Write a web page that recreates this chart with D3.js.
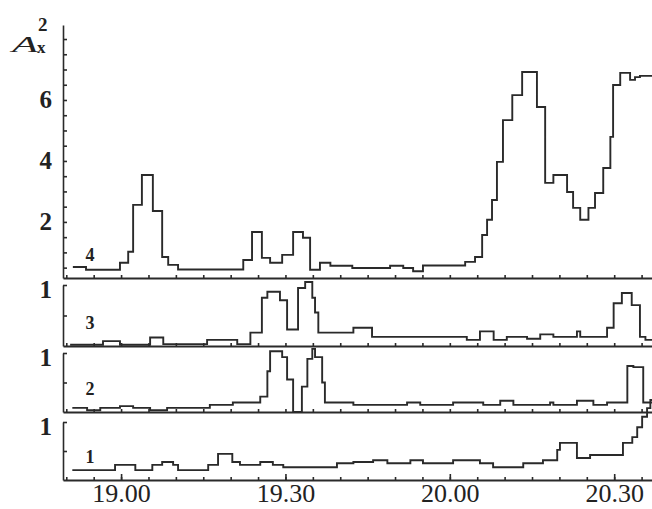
<!DOCTYPE html>
<html>
<head>
<meta charset="utf-8">
<script src="https://cdn.jsdelivr.net/npm/d3@7"></script>
<style>
body { margin: 0; background: #fff; }
svg text { font-family: "Liberation Serif", "DejaVu Serif", serif; fill: #222; }
</style>
</head>
<body>
<svg width="652" height="509"></svg>
<script>
// times are minutes after 19.00, each value holds until the next time
const tEnd = 96.9;
const timeTicks = [0, 30, 60, 90];
const topTickLabels = [2, 4, 6];

const t4 = [-8.8, -6.4, -0.2, 1.3, 2.2, 3.8, 5.8, 7.5, 8.6, 10.4, 22.3, 23.9, 25.7, 27.2, 29.4, 31.4, 33.2, 34.5, 36.3, 38.2, 42.2, 49.1, 51.5, 53.3, 55.1, 62.8, 64.6, 65.9, 66.8, 67.7, 68.6, 69.7, 71.4, 73.2, 75.9, 77.4, 78.9, 81.4, 82.5, 83.8, 85.3, 86.5, 88.0, 89.3, 89.8, 91.1, 92.9, 93.8, 94.7];
const v4 = [0.52, 0.43, 0.66, 1.02, 2.56, 3.54, 2.36, 0.85, 0.59, 0.44, 0.75, 1.67, 0.82, 0.66, 0.92, 1.67, 1.48, 0.43, 0.66, 0.56, 0.49, 0.56, 0.49, 0.38, 0.57, 0.69, 0.85, 1.57, 2.07, 2.72, 3.97, 5.34, 6.16, 6.92, 5.77, 3.28, 3.54, 2.98, 2.46, 2.07, 2.46, 2.95, 3.77, 4.79, 6.49, 6.89, 6.66, 6.75, 6.79];

const t3 = [-9.3, -3.3, -0.2, 5.3, 7.7, 15.7, 21.2, 23.6, 25.7, 26.7, 29.0, 30.3, 32.3, 33.6, 34.9, 35.4, 36.0, 42.4, 45.8, 63.1, 65.5, 68.0, 70.4, 74.1, 76.5, 78.9, 83.2, 83.8, 88.7, 89.9, 91.4, 93.2, 94.7, 95.7];
const v3 = [0.02, 0.08, 0.02, 0.14, 0.03, 0.10, 0.03, 0.22, 0.79, 0.89, 0.75, 0.27, 0.95, 1.05, 0.79, 0.55, 0.22, 0.30, 0.15, 0.10, 0.24, 0.10, 0.15, 0.12, 0.19, 0.15, 0.24, 0.15, 0.30, 0.70, 0.87, 0.67, 0.15, 0.10];

const t2 = [-8.9, -6.2, -3.8, -0.2, 2.2, 5.3, 8.4, 16.2, 20.4, 25.4, 26.7, 27.2, 29.4, 30.3, 31.4, 33.0, 34.0, 34.9, 35.4, 36.7, 37.2, 42.4, 52.2, 54.6, 60.6, 66.1, 69.2, 71.6, 78.3, 78.9, 83.2, 86.2, 88.7, 92.4, 93.5, 95.3];
const v2 = [0.07, 0.03, 0.07, 0.10, 0.07, 0.03, 0.07, 0.12, 0.16, 0.26, 0.69, 1.03, 0.93, 0.55, 0.00, 0.43, 0.90, 1.07, 0.93, 0.50, 0.16, 0.12, 0.16, 0.12, 0.16, 0.12, 0.19, 0.12, 0.16, 0.12, 0.19, 0.12, 0.16, 0.78, 0.76, 0.16];

const t1 = [-8.9, -1.1, 2.6, 5.7, 7.5, 9.5, 10.4, 15.9, 17.7, 20.3, 21.7, 25.4, 27.7, 29.6, 39.4, 42.4, 46.0, 48.6, 52.8, 55.1, 60.6, 65.5, 67.9, 73.4, 77.0, 79.6, 80.1, 83.2, 85.6, 91.6, 93.3, 94.2, 95.1, 96.0, 96.6];
const v1 = [0.17, 0.26, 0.17, 0.26, 0.31, 0.26, 0.17, 0.26, 0.45, 0.31, 0.26, 0.31, 0.26, 0.22, 0.29, 0.31, 0.34, 0.29, 0.34, 0.29, 0.34, 0.29, 0.22, 0.29, 0.34, 0.52, 0.64, 0.38, 0.43, 0.64, 0.74, 0.91, 1.09, 1.24, 1.38];

const ink = "#2a2a2a";
const svg = d3.select("svg");
const x = d3.scaleLinear([-10.6, 96.9], [63, 652]);

const panels = [
    { label: "4", t: t4, v: v4, y: d3.scaleLinear([0.16, 8.46], [278, 25]) },
    { label: "3", t: t3, v: v3, y: d3.scaleLinear([0, 1], [346, 285]) },
    { label: "2", t: t2, v: v2, y: d3.scaleLinear([0, 1], [412, 353]) },
    { label: "1", t: t1, v: v1, y: d3.scaleLinear([0, 1], [480, 422]) }
];

function clock(m) {
    const h = 19 + Math.floor(m / 60);
    return h + "." + String(m % 60).padStart(2, "0");
}

function styleAxis(g, size) {
    g.attr("font-family", null).attr("font-size", null);
    g.selectAll("path, line").attr("stroke", ink).attr("stroke-width", 1.6);
    g.selectAll("text")
        .attr("fill", ink)
        .style("font-size", size + "px")
        .style("font-weight", "bold");
}

panels.forEach((p, i) => {
    const base = p.y.range()[0];

    // baseline with 5 minute ticks
    svg.append("g")
        .attr("transform", `translate(0,${base})`)
        .call(d3.axisBottom(x)
            .tickValues(d3.range(-10, 96, 5))
            .tickSize(-3)
            .tickSizeOuter(0)
            .tickFormat(""))
        .call(g => styleAxis(g, 10))
        .select(".domain").attr("stroke-width", 2);

    // y axis
    const yAxis = i === 0
        ? d3.axisLeft(p.y)
            .tickValues(d3.range(0.5, 8.01, 0.5))
            .tickFormat(d => topTickLabels.includes(d) ? d : "")
        : d3.axisLeft(p.y)
            .tickValues([0.5, 1])
            .tickFormat(d => d === 1 ? "1" : "");
    const ga = svg.append("g")
        .attr("transform", "translate(63,0)")
        .call(yAxis.tickSize(-4).tickSizeOuter(0).tickPadding(11))
        .call(g => styleAxis(g, 25));
    if (i > 0) ga.selectAll("text").attr("dy", "0.5em");

    // step trace
    const pts = p.t.map((t, k) => [t, p.v[k]]).concat([[tEnd, p.v[p.v.length - 1]]]);
    svg.append("path")
        .datum(pts)
        .attr("fill", "none")
        .attr("stroke", ink)
        .attr("stroke-width", 1.9)
        .attr("d", d3.line()
            .x(d => x(d[0]))
            .y(d => p.y(d[1]))
            .curve(d3.curveStepAfter));

    svg.append("text")
        .attr("x", 90)
        .attr("y", base - 21)
        .attr("text-anchor", "middle")
        .attr("dominant-baseline", "middle")
        .style("font-size", "18px")
        .style("font-weight", "bold")
        .text(p.label);
});

// time labels under the bottom panel
svg.append("g")
    .attr("transform", `translate(0,${panels[3].y.range()[0]})`)
    .call(d3.axisBottom(x)
        .tickValues(timeTicks)
        .tickSize(-6)
        .tickSizeOuter(0)
        .tickPadding(5)
        .tickFormat(clock))
    .call(g => styleAxis(g, 26))
    .call(g => g.select(".domain").remove())
    .selectAll("text")
        .attr("dy", "0.66em")
        .style("font-weight", "normal");

// A_x^2 axis title
const title = svg.append("g");
title.append("text")
    .attr("x", 12).attr("y", 52)
    .attr("textLength", 26).attr("lengthAdjust", "spacingAndGlyphs")
    .style("font-size", "24px").style("font-style", "italic")
    .text("A");
title.append("text")
    .attr("x", 37).attr("y", 53)
    .style("font-size", "17px").style("font-weight", "bold")
    .text("x");
title.append("text")
    .attr("x", 38).attr("y", 31)
    .style("font-size", "19px").style("font-weight", "bold")
    .text("2");
</script>
</body>
</html>
